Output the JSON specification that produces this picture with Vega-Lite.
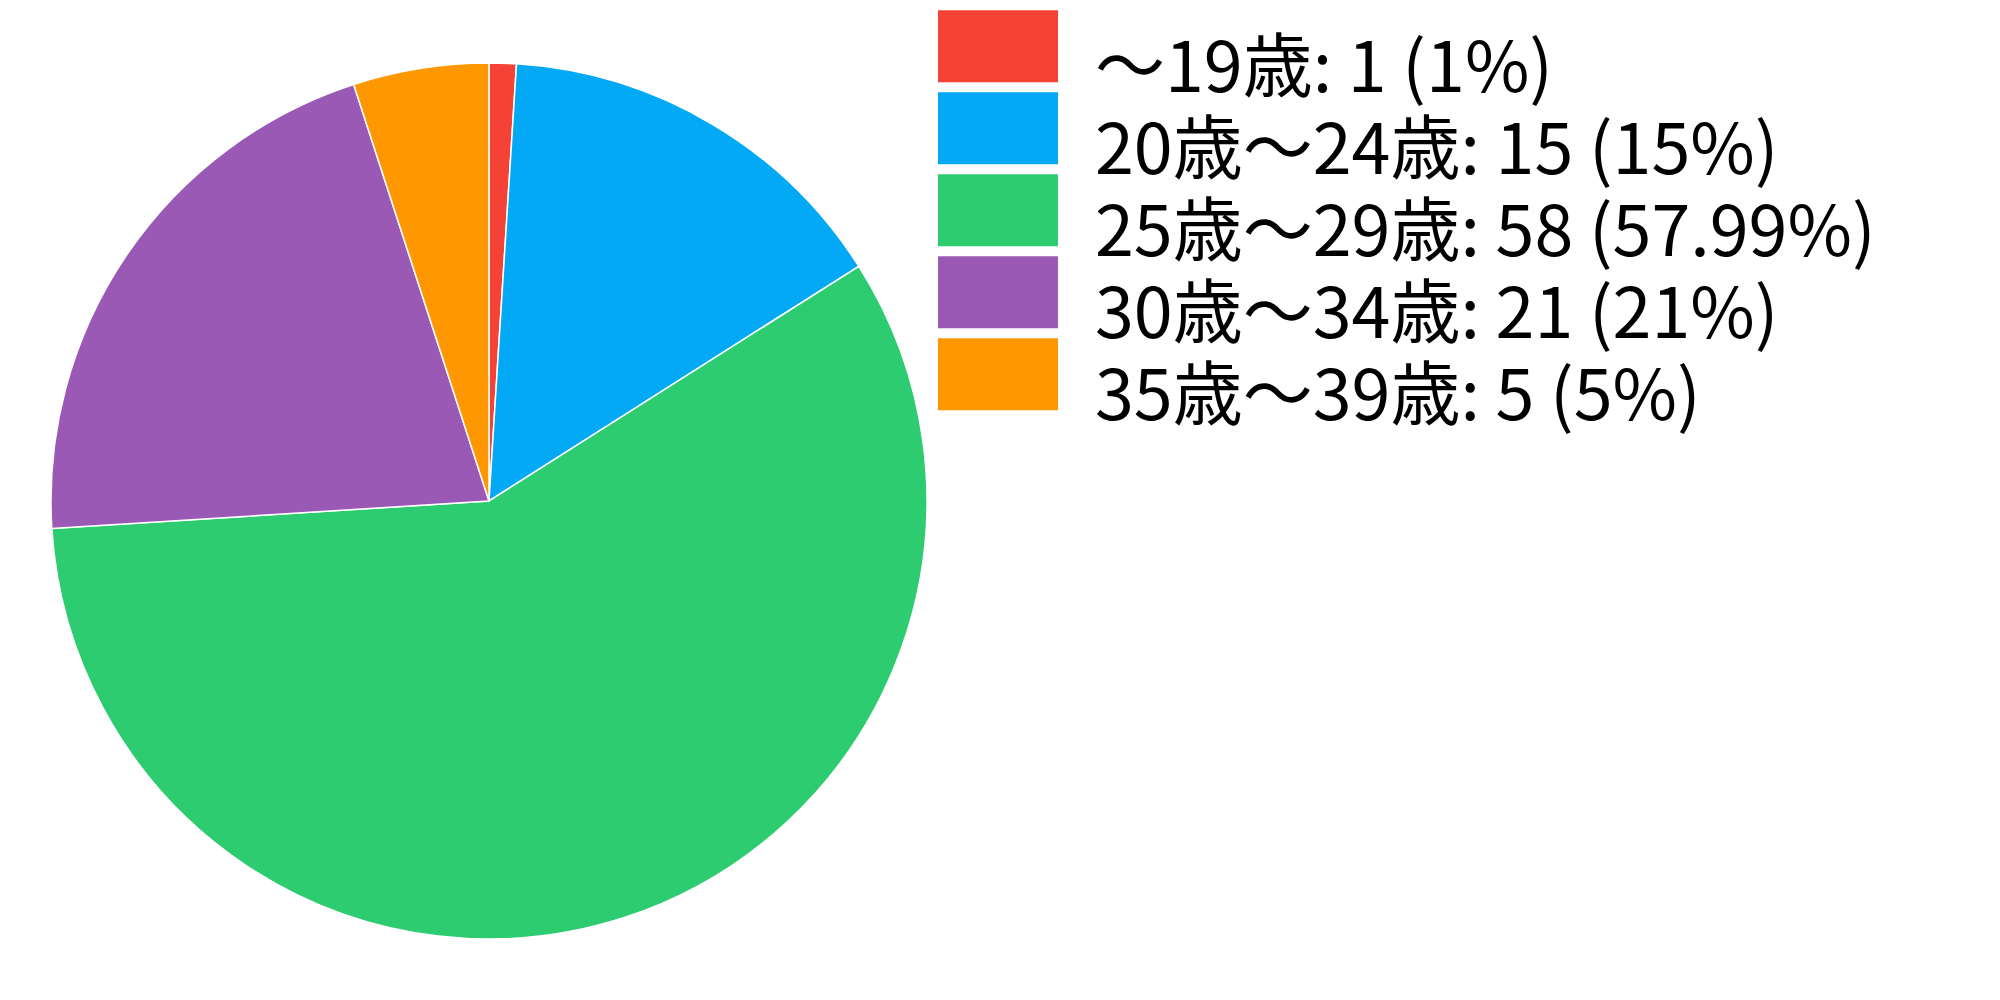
{
  "$schema": "https://vega.github.io/schema/vega-lite/v6.json",
  "width": 978,
  "height": 1002,
  "padding": 0,
  "autosize": {"type": "pad"},
  "background": "white",
  "config": {"view": {"stroke": null}, "font": "Noto Sans CJK JP"},
  "data": {
    "values": [
      {"label": "～19歳: 1 (1%)", "count": 1, "order": 1},
      {"label": "20歳～24歳: 15 (15%)", "count": 15, "order": 2},
      {"label": "25歳～29歳: 58 (57.99%)", "count": 58, "order": 3},
      {"label": "30歳～34歳: 21 (21%)", "count": 21, "order": 4},
      {"label": "35歳～39歳: 5 (5%)", "count": 5, "order": 5}
    ]
  },
  "mark": {"type": "arc", "outerRadius": 438, "stroke": "white", "strokeWidth": 1.5},
  "encoding": {
    "theta": {"field": "count", "type": "quantitative", "stack": true},
    "order": {"field": "order", "type": "quantitative"},
    "color": {
      "field": "label",
      "type": "nominal",
      "sort": {"field": "order"},
      "scale": {
        "domain": ["～19歳: 1 (1%)", "20歳～24歳: 15 (15%)", "25歳～29歳: 58 (57.99%)", "30歳～34歳: 21 (21%)", "35歳～39歳: 5 (5%)"],
        "range": ["#F44336", "#03A9F4", "#2ECC71", "#9B59B6", "#FF9800"]
      },
      "legend": {
        "title": null,
        "orient": "none",
        "legendX": 938,
        "legendY": 35,
        "symbolType": "M-1,-1.69H2.333V0.31H-1Z",
        "symbolSize": 5184,
        "symbolStrokeWidth": 0,
        "symbolOpacity": 1,
        "labelFont": "Noto Sans CJK JP",
        "labelFontSize": 70,
        "labelColor": "black",
        "labelOffset": 85,
        "labelLimit": 1000,
        "rowPadding": -14
      }
    }
  }
}
